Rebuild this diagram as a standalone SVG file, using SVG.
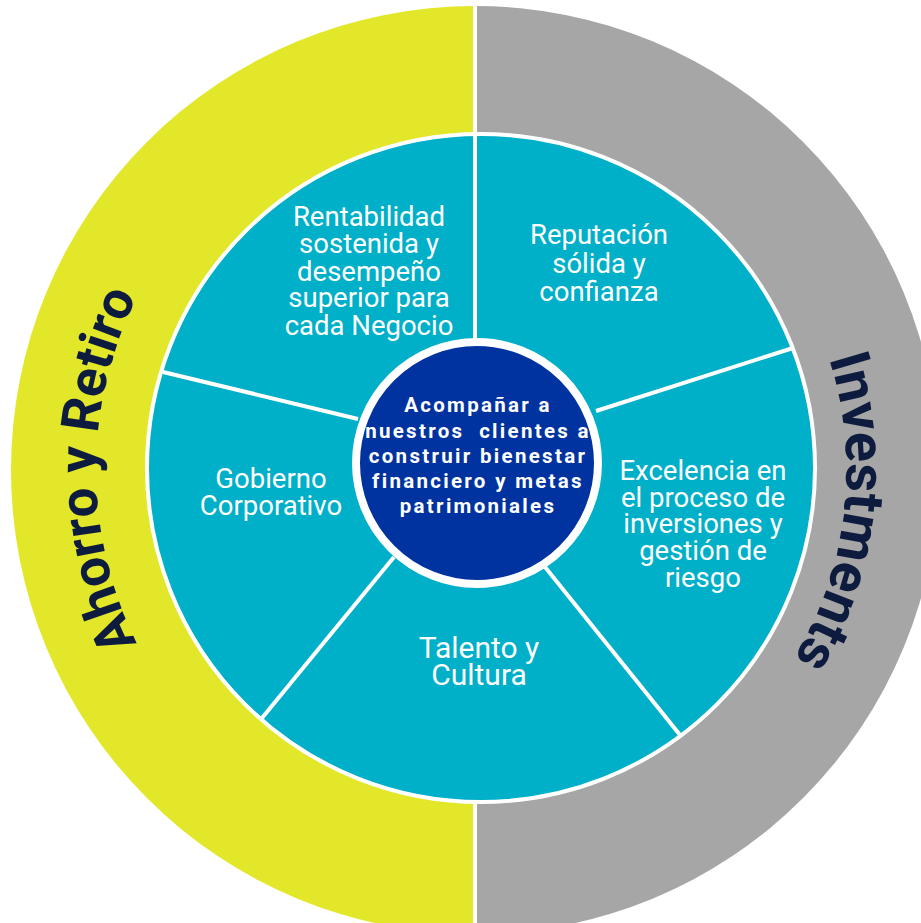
<svg xmlns="http://www.w3.org/2000/svg" xmlns:xlink="http://www.w3.org/1999/xlink" width="921" height="923" viewBox="0 0 921 923">
<defs>
<style>
.lbl{font-family:Roboto,"Liberation Sans",sans-serif;fill:#ffffff;font-size:27.5px;text-anchor:middle}
.big{font-size:30px}
.ctr{font-family:Roboto,"Liberation Sans",sans-serif;fill:#ffffff;font-size:20.5px;font-weight:bold;letter-spacing:2.3px;text-anchor:middle}
.ring{font-family:Roboto,"Liberation Sans",sans-serif;fill:#0d1b3e;font-size:53px;font-weight:700;font-style:normal}
.spoke{stroke:#ffffff;stroke-width:4;stroke-linecap:butt}
</style>
<path id="arcL" d="M288.5,803.4 A385,385 0 0 1 288.5,136.6" fill="none"/>
<path id="arcR" d="M699.4,177.2 A365,365 0 0 1 625.4,805.2" fill="none"/>
</defs>
<rect width="921" height="923" fill="#ffffff"/>
<g id="ring-ahorro">
<path d="M475,6 A464,464 0 0 0 475,934 Z" fill="#e3e729"/>
<text class="ring"><textPath href="#arcL" xlink:href="#arcL" startOffset="50%" text-anchor="middle">Ahorro y Retiro</textPath></text>
</g>
<g id="ring-investments">
<path d="M475,6 A464,464 0 1 1 475,934 Z" fill="#a6a6a6"/>
<text class="ring" style="font-size:56px"><textPath href="#arcR" xlink:href="#arcR" startOffset="50%" text-anchor="middle">Investments</textPath></text>
</g>
<line x1="475" y1="0" x2="475" y2="923" stroke="#ffffff" stroke-width="4"/>
<circle cx="481" cy="468" r="334" fill="#00afc8" stroke="#ffffff" stroke-width="4"/>
<g id="connectors">
<line class="spoke" x1="475" y1="134" x2="475" y2="345"/>
<line class="spoke" x1="596" y1="411" x2="793" y2="348"/>
<line class="spoke" x1="545" y1="567" x2="680" y2="735"/>
<line class="spoke" x1="394" y1="557" x2="262" y2="718"/>
<line class="spoke" x1="358" y1="419" x2="163" y2="372"/>
</g>
<g id="seg-rentabilidad">
<text class="lbl" x="369" y="226">Rentabilidad</text>
<text class="lbl" x="369" y="253">sostenida y</text>
<text class="lbl" x="369" y="281">desempeño</text>
<text class="lbl" x="369" y="307">superior para</text>
<text class="lbl" x="369" y="335">cada Negocio</text>
</g>
<g id="seg-reputacion">
<text class="lbl" x="599" y="244">Reputación</text>
<text class="lbl" x="599" y="273">sólida y</text>
<text class="lbl" x="599" y="301">confianza</text>
</g>
<g id="seg-excelencia">
<text class="lbl" x="703" y="480">Excelencia en</text>
<text class="lbl" x="703" y="507">el proceso de</text>
<text class="lbl" x="703" y="533">inversiones y</text>
<text class="lbl" x="703" y="560">gestión de</text>
<text class="lbl" x="703" y="587">riesgo</text>
</g>
<g id="seg-talento">
<text class="lbl big" x="479" y="658">Talento y</text>
<text class="lbl big" x="479" y="685">Cultura</text>
</g>
<g id="seg-gobierno">
<text class="lbl" x="271" y="488">Gobierno</text>
<text class="lbl" x="271" y="515">Corporativo</text>
</g>
<g id="center">
<circle cx="477" cy="463" r="121" fill="#0033a0" stroke="#ffffff" stroke-width="8"/>
<text class="ctr" x="478" y="412">Acompañar a</text>
<text class="ctr" x="478" y="437.5" xml:space="preserve">nuestros  clientes a</text>
<text class="ctr" x="478" y="463">construir bienestar</text>
<text class="ctr" x="478" y="488">financiero y metas</text>
<text class="ctr" x="478" y="513">patrimoniales</text>
</g>
</svg>
